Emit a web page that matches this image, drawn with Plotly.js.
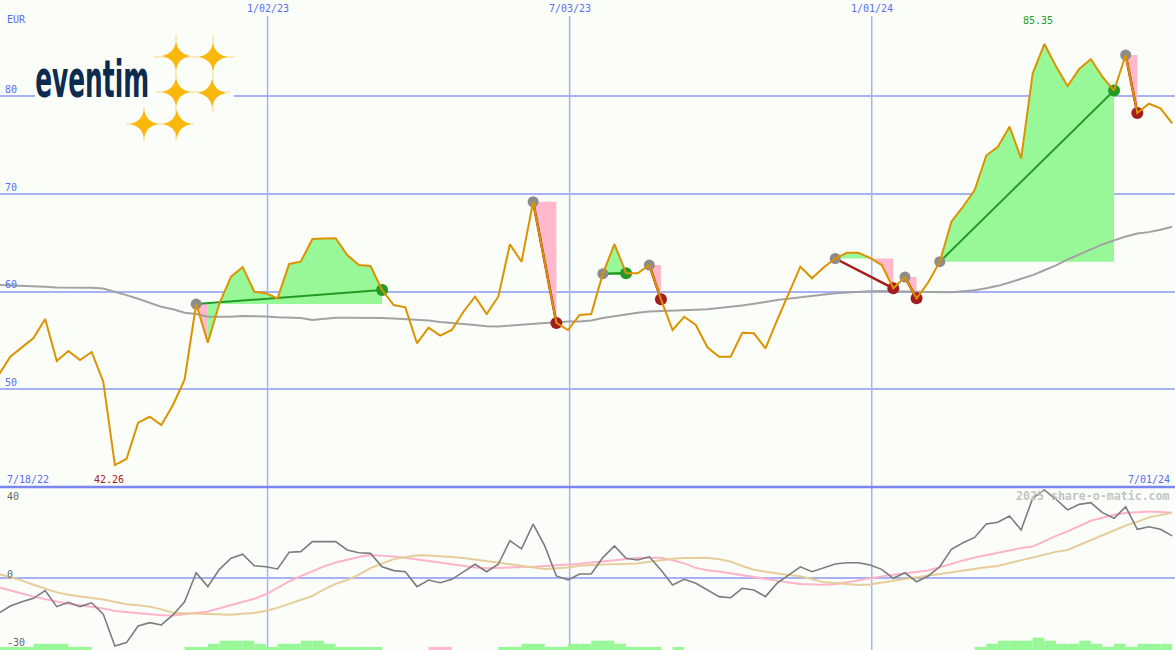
<!DOCTYPE html>
<html><head><meta charset="utf-8">
<script src="https://cdn.plot.ly/plotly-3.0.1.min.js"></script>
<style>html,body{margin:0;padding:0;background:#fbfdf9;}#chart{width:1175px;height:650px;}</style>
</head><body><div id="chart"></div>
<script>
// ---------- data ----------
const startDate = '2022-07-24';           // first weekly close shown
const currency = 'EUR';
const firstLabel = '7/18/22';
const lastLabel = '7/01/24';
const dateTicks = ['2023-01-02', '2023-07-03', '2024-01-01'];
const dateTickText = ['1/02/23', '7/03/23', '1/01/24'];
const priceTicks = [50, 60, 70, 80];
const lowerTicks = [40, 0, -30];

const price = [51.47,53.35,54.3,55.26,57.2,52.9,53.93,53.0,53.83,50.79,
  42.26,42.88,46.6,47.2,46.36,48.4,51.0,58.74,54.78,58.8,
  61.54,62.53,60.0,59.84,59.32,62.84,63.07,65.39,65.45,65.47,
  63.76,62.73,62.63,60.17,58.64,58.4,54.72,56.32,55.5,56.08,
  57.95,59.49,57.72,59.49,64.85,63.07,69.21,63.0,56.8,56.08,
  57.62,57.72,61.85,64.88,61.9,61.88,62.73,59.22,56.08,57.44,
  56.59,54.31,53.35,53.35,55.8,55.74,54.2,57.1,59.8,62.56,
  61.37,62.48,63.4,63.99,63.99,63.45,62.73,60.35,61.5,59.32,
  60.94,63.07,67.16,68.7,70.41,73.94,74.84,76.89,73.65,82.35,
  85.35,83.07,81.05,82.8,83.79,82.0,80.59,84.23,78.29,79.24,
  78.77,77.24];

const movingAvg = [60.69,60.65,60.6,60.58,60.5,60.42,60.43,60.41,60.41,60.33,
  59.95,59.65,59.28,58.85,58.45,58.2,57.85,57.72,57.44,57.44,
  57.44,57.52,57.5,57.45,57.38,57.34,57.3,57.1,57.25,57.34,
  57.34,57.34,57.34,57.3,57.25,57.2,57.15,57.05,56.9,56.77,
  56.7,56.6,56.47,56.45,56.55,56.65,56.7,56.8,56.85,56.95,
  56.95,57.05,57.3,57.5,57.65,57.85,57.97,58.0,58.05,58.1,
  58.15,58.2,58.3,58.45,58.6,58.75,58.95,59.15,59.3,59.45,
  59.6,59.75,59.85,59.92,60.0,60.05,60.07,60.07,60.05,60.0,
  59.97,59.95,59.95,60.05,60.15,60.35,60.6,60.95,61.3,61.7,
  62.2,62.7,63.3,63.8,64.3,64.85,65.25,65.65,65.95,66.1,
  66.35,66.65];

const momentum = [-16.4,-13.0,-11.0,-9.4,-5.8,-13.3,-11.3,-13.3,-11.5,-16.8,
  -31.8,-30.2,-22.4,-20.8,-21.9,-17.2,-11.0,2.6,-3.9,4.2,
  9.4,11.3,5.9,5.4,4.4,12.2,12.5,17.2,17.2,17.2,
  13.3,12.0,11.7,5.4,3.6,3.1,-3.9,-0.8,-2.1,-0.5,
  3.0,6.6,3.1,6.6,17.7,13.8,25.4,15.2,1.1,-0.8,
  2.0,2.0,9.7,15.2,9.4,8.6,10.1,3.9,-3.1,-0.5,
  -2.3,-5.5,-8.6,-9.1,-4.7,-5.5,-8.6,-2.3,1.5,5.4,
  3.1,4.8,6.7,7.3,7.3,6.2,4.2,0.0,2.6,-1.6,
  1.1,5.4,13.6,16.7,19.2,25.5,26.3,29.2,22.7,37.6,
  41.5,37.1,32.1,34.7,35.5,30.8,28.2,33.6,23.0,24.2,
  23.0,19.9];

const signalFast = [-4.2,-5.5,-7.1,-8.6,-9.8,-11.1,-12.1,-12.7,-13.3,-14.2,
  -15.3,-15.8,-16.3,-16.9,-17.4,-17.5,-16.9,-16.3,-15.6,-14.1,
  -12.7,-11.1,-9.6,-7.5,-4.3,-1.5,1.0,3.4,5.6,7.4,
  8.8,10.0,10.9,10.7,10.2,9.6,8.8,8.1,7.3,6.6,
  5.9,5.1,4.7,4.8,5.0,5.2,5.4,5.8,6.1,6.5,
  6.8,7.4,8.0,8.6,9.1,9.5,9.7,9.6,8.5,7.0,
  4.9,3.8,3.2,2.3,1.6,0.8,-0.1,-1.0,-2.0,-2.7,
  -2.9,-3.0,-2.8,-1.8,-0.8,0.0,0.9,1.7,2.4,3.1,
  3.7,5.2,6.9,8.4,9.8,10.9,11.7,12.8,14.2,14.9,
  17.4,19.9,22.0,24.6,27.0,28.4,29.8,30.6,31.1,31.3,
  31.1,30.8];

const signalSlow = [2.0,0.6,-1.1,-3.0,-4.9,-6.6,-7.7,-8.6,-9.3,-10.0,
  -11.2,-12.2,-12.7,-13.3,-14.6,-16.2,-16.4,-16.6,-16.8,-17.1,
  -17.1,-16.7,-16.3,-15.2,-13.9,-12.0,-10.3,-8.3,-5.2,-2.6,
  -0.8,1.7,4.8,7.0,9.0,9.9,10.8,10.7,10.5,10.0,
  9.5,8.8,8.0,7.3,6.5,5.7,5.1,4.4,4.7,5.1,
  5.9,6.3,6.5,6.6,6.8,7.0,7.8,8.6,9.2,9.5,
  9.7,9.7,8.9,7.9,5.8,4.0,3.1,2.2,1.6,1.0,
  -0.3,-1.8,-2.2,-2.7,-3.1,-2.9,-2.2,-1.2,-0.3,0.5,
  1.3,2.2,3.0,3.8,4.4,5.2,5.8,7.1,8.3,9.5,
  11.0,12.4,13.3,15.6,17.9,20.1,22.3,24.8,26.5,28.6,
  29.7,30.8];

// weekly trend strength blocks (negative = bearish, pink)
const strength = [1,1,1,2,2,2,1,1,0,0,
  0,0,0,0,0,0,1,1,2,3,
  3,3,2,1,2,2,3,3,2,1,
  1,1,1,0,0,0,0,-1,-1,0,
  0,0,0,1,1,2,2,1,1,2,
  2,3,3,2,1,1,1,0,1,0,
  0,0,0,0,0,0,0,0,0,0,
  0,0,0,0,0,0,0,0,0,0,
  0,0,0,0,1,2,3,3,3,4,
  3,2,2,3,2,1,2,1,2,2,
  2];

const tradeEntries = [17, 46, 52, 56, 72, 78, 81, 97];
const tradeExits   = [33, 48, 54, 57, 77, 79, 96, 98];

// ---------- helpers ----------
const DAY = 86400000;
function dateAt(k, extraDays) {
  const t = Date.parse(startDate + 'T00:00:00Z') + (7 * k + (extraDays || 0)) * DAY;
  return new Date(t).toISOString().slice(0, 19).replace('T', ' ');
}
const dates = price.map((_, k) => dateAt(k));
const W = 1175, H = 650;
const px = x => x / W, py = y => 1 - y / H;

const C = {
  bg: '#fbfdf9', grid: '#a6b2f2', sep: '#7b87f0', label: '#5a6cf0',
  price: '#dc9300', avg: '#a2a2a2', green: '#98f898', pink: '#ffb8cc',
  win: '#249a24', loss: '#a41c1c', entry: '#8c8c8c',
  mom: '#7c7c7c', fast: '#ffb3c9', slow: '#e6cd9a'
};
const mono = 'DejaVu Sans Mono, monospace';

const traces = [];

// trade fills between price and entry level
tradeEntries.forEach((a, t) => {
  const b = tradeExits[t];
  const lvl = price[a];
  const pushPoly = (s, e, col) => {
    const xs = [], ys = [];
    for (let k = s; k <= e; k++) { xs.push(dates[k]); ys.push(price[k]); }
    xs.push(dates[e], dates[s], dates[s]); ys.push(lvl, lvl, price[s]);
    traces.push({x: xs, y: ys, mode: 'lines', fill: 'toself',
      fillcolor: col === 'g' ? C.green : C.pink,
      line: {width: 0, color: 'rgba(0,0,0,0)'}, hoverinfo: 'skip', xaxis: 'x', yaxis: 'y'});
  };
  let runStart = a, runColor = null;
  for (let c = a; c < b; c++) {
    const col = price[c + 1] >= lvl ? 'g' : 'p';
    if (runColor === null) runColor = col;
    if (col !== runColor) { pushPoly(runStart, c, runColor); runStart = c; runColor = col; }
  }
  pushPoly(runStart, b, runColor);
});

// moving average
traces.push({x: dates, y: movingAvg, mode: 'lines', line: {color: C.avg, width: 2}, xaxis: 'x', yaxis: 'y'});

// trade connection lines
tradeEntries.forEach((a, t) => {
  const b = tradeExits[t];
  const win = price[b] >= price[a];
  traces.push({x: [dates[a], dates[b]], y: [price[a], price[b]], mode: 'lines',
    line: {color: win ? C.win : C.loss, width: (b - a > 10) ? 2 : 2.5}, xaxis: 'x', yaxis: 'y'});
});

// markers
traces.push({x: tradeEntries.map(k => dates[k]), y: tradeEntries.map(k => price[k]), mode: 'markers',
  marker: {color: C.entry, size: 11}, xaxis: 'x', yaxis: 'y'});
traces.push({x: tradeExits.map(k => dates[k]), y: tradeExits.map(k => price[k]), mode: 'markers',
  marker: {color: tradeExits.map((k, t) => price[k] >= price[tradeEntries[t]] ? C.win : C.loss), size: 12},
  xaxis: 'x', yaxis: 'y'});

// price line
traces.push({x: dates, y: price, mode: 'lines', line: {color: C.price, width: 2}, xaxis: 'x', yaxis: 'y'});

// lower panel: strength blocks
traces.push({type: 'bar', x: strength.map((_, i) => dateAt(i, 3.5)), y: strength.map(v => Math.abs(v)),
  width: 7 * DAY, marker: {color: strength.map(v => v < 0 ? C.pink : C.green), line: {width: 0}},
  xaxis: 'x', yaxis: 'y3'});
traces.push({x: dates, y: signalFast, mode: 'lines', line: {color: C.fast, width: 2}, xaxis: 'x', yaxis: 'y2'});
traces.push({x: dates, y: signalSlow, mode: 'lines', line: {color: C.slow, width: 2}, xaxis: 'x', yaxis: 'y2'});
traces.push({x: dates, y: momentum, mode: 'lines', line: {color: C.mom, width: 1.6}, xaxis: 'x', yaxis: 'y2'});

// ---------- layout ----------
const shapes = [];
dateTicks.forEach(d => shapes.push({type: 'line', xref: 'x', yref: 'paper', x0: d, x1: d, y0: 0, y1: py(16),
  line: {color: C.grid, width: 1.5}, layer: 'below'}));
shapes.push({type: 'line', xref: 'paper', yref: 'paper', x0: 0, x1: 1, y0: py(487), y1: py(487),
  line: {color: C.sep, width: 2.5}});

// logo backdrop, guide lines and sparkles
shapes.push({type: 'rect', xref: 'paper', yref: 'paper', x0: px(35), x1: px(234), y0: py(145), y1: py(32),
  fillcolor: C.bg, line: {width: 0}, layer: 'above'});
const glow = 'rgba(250,200,70,0.45)';
[[154, 235, 57], [156, 230, 92], [126, 194, 124]].forEach(([a, b, y]) =>
  shapes.push({type: 'line', xref: 'paper', yref: 'paper', x0: px(a), x1: px(b), y0: py(y), y1: py(y), line: {color: glow, width: 1.5}}));
[[176, 35, 141], [213, 35, 112], [144, 107, 141]].forEach(([x, a, b]) =>
  shapes.push({type: 'line', xref: 'paper', yref: 'paper', x0: px(x), x1: px(x), y0: py(a), y1: py(b), line: {color: glow, width: 1.5}}));
const sparkle = (r, w) => `M 0,${r} Q ${w},${w} ${r},0 Q ${w},-${w} 0,-${r} Q -${w},-${w} -${r},0 Q -${w},${w} 0,${r} Z`;
[[176, 56], [213, 57], [176, 92], [212, 93], [144, 124], [177, 124]].forEach(([x, y]) =>
  shapes.push({type: 'path', xref: 'paper', yref: 'paper', xsizemode: 'pixel', ysizemode: 'pixel',
    xanchor: px(x), yanchor: py(y), path: sparkle(14, 2.2), fillcolor: '#fbb80c', line: {width: 0}, layer: 'above'}));

const ann = [];
const txt = (text, x, y, xa, color, extra) => Object.assign({text, xref: 'paper', yref: 'paper', x: px(x), y: py(y),
  xanchor: xa, yanchor: 'middle', showarrow: false, font: {family: mono, size: 10, color}}, extra || {});
ann.push(txt(currency, 5, 19, 'left', C.label));
dateTicks.forEach((d, i) => ann.push({text: dateTickText[i], xref: 'x', x: d, yref: 'paper', y: py(9), yanchor: 'middle',
  xanchor: 'center', showarrow: false, font: {family: mono, size: 10, color: C.label}}));
ann.push(txt(firstLabel, 5, 479, 'left', C.label));
ann.push(txt(lastLabel, 1172, 479, 'right', C.label));
const iMin = price.indexOf(Math.min(...price)), iMax = price.indexOf(Math.max(...price));
ann.push({text: price[iMin].toFixed(2), xref: 'x', x: dates[iMin], xshift: -6, yref: 'paper', y: py(479), yanchor: 'middle',
  showarrow: false, font: {family: mono, size: 10, color: C.loss}});
ann.push({text: price[iMax].toFixed(2), xref: 'x', x: dates[iMax], xshift: -6, yref: 'paper', y: py(21), yanchor: 'middle',
  showarrow: false, font: {family: mono, size: 10, color: C.win}});
const lowerY = [496, 574, 642];
lowerTicks.forEach((v, i) => ann.push(txt(String(v), 5, lowerY[i], 'left', '#666666')));
ann.push(txt('2025 share-o-matic.com', 1172, 496, 'right', '#c4c4c4', {font: {family: mono, size: 11.6, color: '#c4c4c4', weight: 'bold'}}));
ann.push({text: 'eventim', xref: 'paper', yref: 'paper', x: px(91.5), y: py(79), xanchor: 'center', yanchor: 'middle',
  showarrow: false, font: {family: 'DejaVu Sans, sans-serif', size: 52, color: '#0c2b4f', weight: 'bold'}});

const layout = {
  width: W, height: H, margin: {l: 0, r: 0, t: 0, b: 0},
  paper_bgcolor: C.bg, plot_bgcolor: C.bg, showlegend: false,
  xaxis: {type: 'date', range: ['2022-07-24 19:00', '2024-07-01 17:00'], showgrid: false, zeroline: false,
    showticklabels: false, ticks: '', showline: false, fixedrange: true},
  yaxis: {domain: [py(487), 1], range: [40.01, 89.86], tickvals: priceTicks, ticktext: priceTicks.map(String),
    showgrid: true, gridcolor: C.grid, gridwidth: 2, zeroline: false, showline: false, ticks: '',
    ticklabelposition: 'inside top', ticklabelstandoff: 2, tickfont: {family: mono, size: 10, color: C.label}, fixedrange: true},
  yaxis2: {domain: [0, py(487)], range: [-33.66, 42.86], tickvals: [0], showticklabels: false,
    showgrid: true, gridcolor: C.grid, gridwidth: 2, zeroline: false, showline: false, ticks: '', fixedrange: true},
  yaxis3: {overlaying: 'y2', range: [0, 52.6], visible: false, showgrid: false, zeroline: false, fixedrange: true},
  shapes, annotations: ann
};
Plotly.newPlot('chart', traces, layout, {displayModeBar: false, staticPlot: true}).then(() => {
  // condense the logo word to the narrow width of the original wordmark
  document.querySelectorAll('.annotation-text').forEach(el => {
    if (el.textContent === 'eventim') {
      el.setAttribute('textLength', '114');
      el.setAttribute('lengthAdjust', 'spacingAndGlyphs');
    }
  });
});
</script></body></html>
